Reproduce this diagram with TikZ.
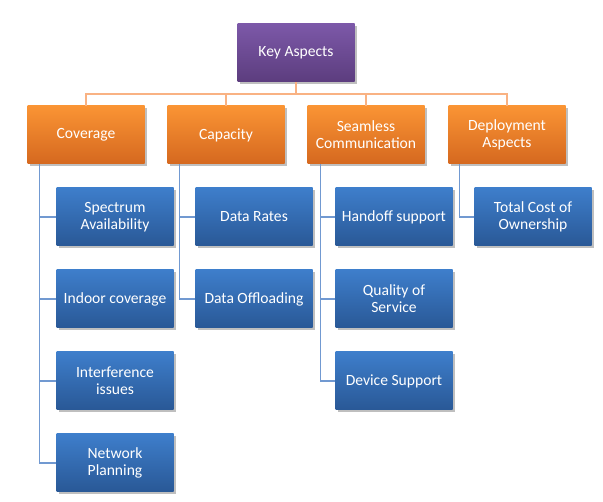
\documentclass[tikz,border=0pt]{standalone}
\usepackage{fontspec}
\setmainfont{Carlito}
\usetikzlibrary{shadows}
\definecolor{purtop}{HTML}{7C58A8}
\definecolor{purbot}{HTML}{5C3D7E}
\definecolor{ortop}{HTML}{FA9434}
\definecolor{orbot}{HTML}{D5681F}
\definecolor{bltop}{HTML}{3E7ECB}
\definecolor{blbot}{HTML}{295896}
\definecolor{olin}{HTML}{F9B283}
\definecolor{blin}{HTML}{7199D1}
\begin{document}
\begin{tikzpicture}[x=1pt,y=-1pt,
  box/.style={minimum width=117pt,minimum height=58pt,inner sep=1pt,align=center,
    text=white,font=\fontsize{15.6}{16.8}\selectfont,
    drop shadow={shadow xshift=2pt,shadow yshift=-2pt,opacity=0.25,fill=black}},
  purp/.style={box,top color=purtop,bottom color=purbot},
  orng/.style={box,top color=ortop,bottom color=orbot},
  blu/.style={box,top color=bltop,bottom color=blbot},
  oline/.style={draw=olin,line width=1.3pt},
  bline/.style={draw=blin,line width=1.3pt}]
\useasboundingbox (0,0) rectangle (603,502);
\coordinate (kbar) at (296,94);
\node[purp] (key) at (296,53) {Key Aspects};
\node[orng] (cov) at (86,135) {Coverage};
\node[orng] (cap) at (226,135) {Capacity};
\node[orng] (sea) at (366,135) {Seamless\\Communication};
\node[orng] (dep) at (507,135) {Deployment\\Aspects};
\node[blu] (s1) at (115,217) {Spectrum\\Availability};
\node[blu] (s2) at (115,299) {Indoor coverage};
\node[blu] (s3) at (115,381) {Interference\\issues};
\node[blu] (s4) at (115,463) {Network\\Planning};
\node[blu] (r1) at (254,217) {Data Rates};
\node[blu] (r2) at (254,299) {Data Offloading};
\node[blu] (m1) at (394,217) {Handoff support};
\node[blu] (m2) at (394,299) {Quality of\\Service};
\node[blu] (m3) at (394,381) {Device Support};
\node[blu] (d1) at (533,217) {Total Cost of\\Ownership};
% orange connectors
\draw[oline] (key.south) -- (kbar);
\foreach \n in {cov,cap,sea,dep}{\draw[oline] (kbar) -| (\n.north);}
% blue connectors
\foreach \n in {s1,s2,s3,s4}{\draw[bline] ([xshift=12pt]cov.south west) |- (\n.west);}
\foreach \n in {r1,r2}{\draw[bline] ([xshift=12pt]cap.south west) |- (\n.west);}
\foreach \n in {m1,m2,m3}{\draw[bline] ([xshift=13pt]sea.south west) |- (\n.west);}
\foreach \n in {d1}{\draw[bline] ([xshift=11pt]dep.south west) |- (\n.west);}
\end{tikzpicture}
\end{document}
